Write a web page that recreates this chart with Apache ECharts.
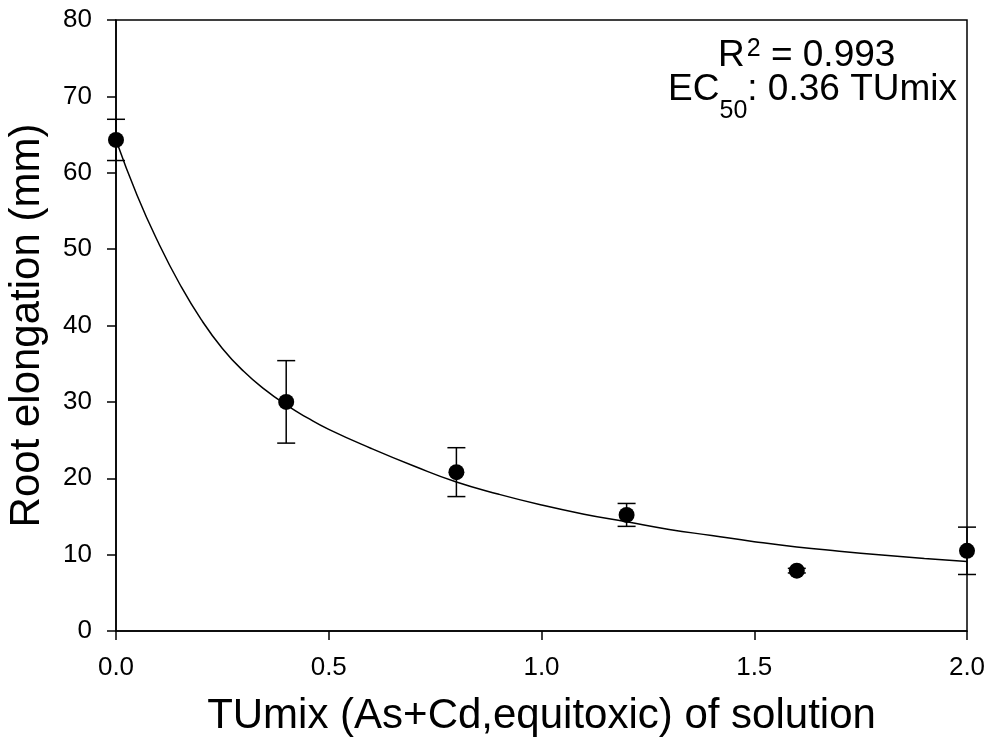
<!DOCTYPE html>
<html>
<head>
<meta charset="utf-8">
<script src="https://cdn.jsdelivr.net/npm/echarts@6/dist/echarts.min.js"></script>
<style>
  html, body { margin: 0; padding: 0; background: #fff; }
  #chart { width: 994px; height: 738px; }
</style>
</head>
<body>
<div id="chart"></div>
<script>
// measured points (mean +/- error)
var tuMix = [0, 0.4, 0.8, 1.2, 1.6, 2.0];
var rootMean = [64.3, 30.0, 20.8, 15.2, 7.9, 10.5];
var rootErr = [2.7, 5.4, 3.2, 1.5, 0.3, 3.1];

// fitted curve
var fitX = [0, 0.05, 0.1, 0.15, 0.2, 0.25, 0.3, 0.35, 0.4, 0.45, 0.5, 0.6, 0.7, 0.8, 0.9, 1.0, 1.1, 1.2, 1.3, 1.4, 1.5, 1.6, 1.7, 1.8, 1.9, 2.0];
var fitY = [64.3, 57.0, 50.8, 45.4, 40.8, 37.0, 34.0, 31.6, 29.6, 27.9, 26.4, 23.9, 21.6, 19.5, 17.9, 16.5, 15.3, 14.3, 13.3, 12.5, 11.7, 11.0, 10.45, 9.95, 9.5, 9.1];

var xTicks = [0, 0.5, 1.0, 1.5, 2.0];
var yTicks = [0, 10, 20, 30, 40, 50, 60, 70, 80];

var font = "'Liberation Sans', Arial, sans-serif";

var pts = tuMix.map(function (x, i) { return [x, rootMean[i]]; });
var bars = tuMix.map(function (x, i) { return [x, rootMean[i] - rootErr[i], rootMean[i] + rootErr[i]]; });
var fit = fitX.map(function (x, i) { return [x, fitY[i]]; });

var chart = echarts.init(document.getElementById('chart'));
chart.setOption({
  backgroundColor: '#fff',
  animation: false,
  grid: {
    left: 116, right: 27, top: 20, bottom: 107,
    outerBoundsMode: 'none', containLabel: false,
    show: true, borderColor: '#000', borderWidth: 1.5
  },
  xAxis: {
    type: 'value',
    min: xTicks[0], max: xTicks[xTicks.length - 1], interval: 0.5,
    name: 'TUmix (As+Cd,equitoxic) of solution',
    nameLocation: 'middle', nameGap: 64,
    nameTextStyle: { fontFamily: font, fontSize: 42, color: '#000' },
    axisLine: { lineStyle: { color: '#000', width: 1.5 } },
    axisTick: { inside: false, length: 9, lineStyle: { color: '#000', width: 1.5 } },
    axisLabel: {
      margin: 24, fontFamily: font, fontSize: 26, color: '#000',
      formatter: function (v) { return v.toFixed(1); }
    },
    splitLine: { show: false }
  },
  yAxis: {
    type: 'value',
    min: yTicks[0], max: yTicks[yTicks.length - 1], interval: 10,
    name: 'Root elongation (mm)',
    nameLocation: 'middle', nameGap: 68,
    nameTextStyle: { fontFamily: font, fontSize: 42, color: '#000' },
    axisLine: { show: true, lineStyle: { color: '#000', width: 1.5 } },
    axisTick: { show: true, inside: false, length: 9, lineStyle: { color: '#000', width: 1.5 } },
    axisLabel: { margin: 24, fontFamily: font, fontSize: 26, color: '#000' },
    splitLine: { show: false }
  },
  graphic: [
    {
      type: 'text', x: 718, y: 74,
      style: {
        text: '{a|R}{s|2}{a| = 0.993}',
        align: 'left', verticalAlign: 'bottom',
        rich: {
          a: { fontFamily: font, fontSize: 37, lineHeight: 37, color: '#000', verticalAlign: 'bottom' },
          s: { fontFamily: font, fontSize: 25, lineHeight: 25, color: '#000', verticalAlign: 'bottom', padding: [0, 0, 12, 2] }
        }
      }
    },
    {
      type: 'text', x: 957, y: 124,
      style: {
        text: '{a|EC}{s|50}{a|: 0.36 TUmix}',
        align: 'right', verticalAlign: 'bottom',
        rich: {
          a: { fontFamily: font, fontSize: 37, lineHeight: 37, color: '#000', verticalAlign: 'bottom', padding: [0, 0, 16, 0] },
          s: { fontFamily: font, fontSize: 25, lineHeight: 25, color: '#000', verticalAlign: 'bottom' }
        }
      }
    }
  ],
  series: [
    {
      type: 'line',
      data: fit,
      smooth: true,
      symbol: 'none',
      lineStyle: { color: '#000', width: 1.5 },
      z: 2
    },
    {
      type: 'custom',
      data: bars,
      clip: false,
      z: 3,
      renderItem: function (params, api) {
        var x = api.value(0);
        var lo = api.coord([x, api.value(1)]);
        var hi = api.coord([x, api.value(2)]);
        var w = 9;
        var st = { stroke: '#000', lineWidth: 1.5 };
        return {
          type: 'group',
          children: [
            { type: 'line', shape: { x1: lo[0], y1: lo[1], x2: hi[0], y2: hi[1] }, style: st },
            { type: 'line', shape: { x1: hi[0] - w, y1: hi[1], x2: hi[0] + w, y2: hi[1] }, style: st },
            { type: 'line', shape: { x1: lo[0] - w, y1: lo[1], x2: lo[0] + w, y2: lo[1] }, style: st }
          ]
        };
      }
    },
    {
      type: 'scatter',
      data: pts,
      symbol: 'circle',
      symbolSize: 16,
      clip: false,
      itemStyle: { color: '#000', opacity: 1 },
      z: 4
    }
  ]
});
</script>
</body>
</html>
